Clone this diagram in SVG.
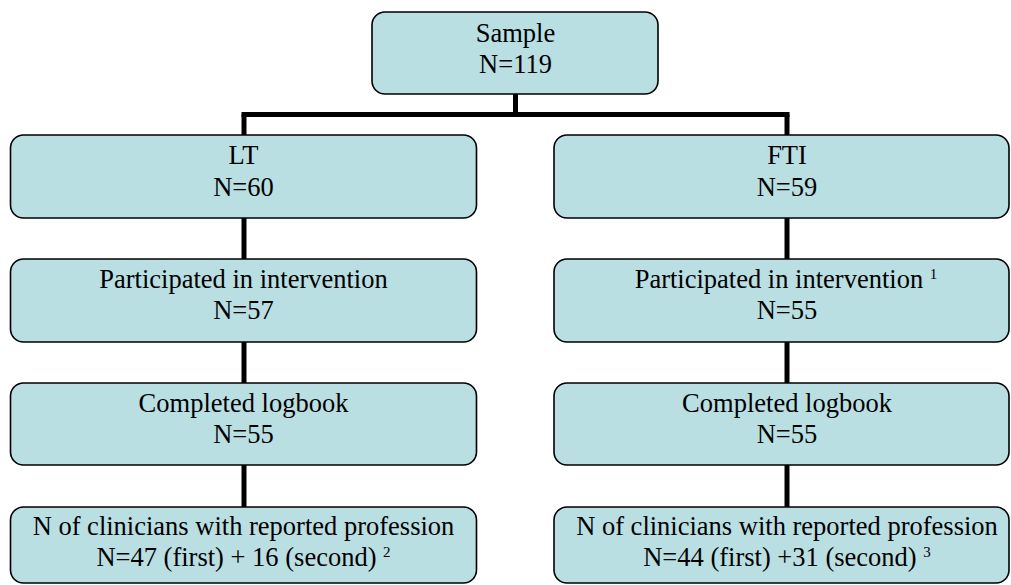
<svg xmlns="http://www.w3.org/2000/svg" width="1011" height="585" viewBox="0 0 1011 585">
<style>
.box{fill:#B9DFE3;stroke:#000;stroke-width:1.6}
.con{stroke:#000;stroke-width:5;fill:none}
</style>
<rect width="1011" height="585" fill="#fff"/>
<g id="connectors">
<line class="con" x1="515.5" y1="94" x2="515.5" y2="114.5"/>
<line class="con" x1="241.5" y1="114.5" x2="789.5" y2="114.5"/>
<line class="con" x1="244" y1="114.5" x2="244" y2="135"/>
<line class="con" x1="787" y1="114.5" x2="787" y2="135"/>
<line class="con" x1="244" y1="218" x2="244" y2="259"/>
<line class="con" x1="244" y1="342" x2="244" y2="383"/>
<line class="con" x1="244" y1="465" x2="244" y2="507"/>
<line class="con" x1="787" y1="218" x2="787" y2="259"/>
<line class="con" x1="787" y1="342" x2="787" y2="383"/>
<line class="con" x1="787" y1="465" x2="787" y2="507"/>
</g>
<g id="sample">
<rect class="box" x="372" y="12" width="286" height="82" rx="13"/>
<text font-family="Liberation Serif" font-size="26.5" text-anchor="middle" x="515.5" y="42">Sample</text>
<text font-family="Liberation Serif" font-size="26.5" text-anchor="middle" x="515.5" y="73">N=119</text>
</g>
<g id="lt">
<rect class="box" x="10.5" y="135" width="466" height="83" rx="13"/>
<text font-family="Liberation Serif" font-size="26.5" text-anchor="middle" x="243.5" y="164">LT</text>
<text font-family="Liberation Serif" font-size="26.5" text-anchor="middle" x="243.5" y="196">N=60</text>
</g>
<g id="fti">
<rect class="box" x="554" y="135" width="455" height="83" rx="13"/>
<text font-family="Liberation Serif" font-size="26.5" text-anchor="middle" x="787" y="164">FTI</text>
<text font-family="Liberation Serif" font-size="26.5" text-anchor="middle" x="787" y="196">N=59</text>
</g>
<g id="lt-participated">
<rect class="box" x="10.5" y="259" width="466" height="83" rx="13"/>
<text font-family="Liberation Serif" font-size="26.5" text-anchor="middle" x="243.5" y="288">Participated in intervention</text>
<text font-family="Liberation Serif" font-size="26.5" text-anchor="middle" x="243.5" y="319">N=57</text>
</g>
<g id="fti-participated">
<rect class="box" x="554" y="259" width="455" height="83" rx="13"/>
<text font-family="Liberation Serif" font-size="26.5" text-anchor="middle" x="786" y="288">Participated in intervention <tspan font-size="15" dy="-9">1</tspan></text>
<text font-family="Liberation Serif" font-size="26.5" text-anchor="middle" x="787" y="319">N=55</text>
</g>
<g id="lt-logbook">
<rect class="box" x="10.5" y="383" width="466" height="82" rx="13"/>
<text font-family="Liberation Serif" font-size="26.5" text-anchor="middle" x="243.5" y="412">Completed logbook</text>
<text font-family="Liberation Serif" font-size="26.5" text-anchor="middle" x="243.5" y="443">N=55</text>
</g>
<g id="fti-logbook">
<rect class="box" x="554" y="383" width="455" height="82" rx="13"/>
<text font-family="Liberation Serif" font-size="26.5" text-anchor="middle" x="787" y="412">Completed logbook</text>
<text font-family="Liberation Serif" font-size="26.5" text-anchor="middle" x="787" y="443">N=55</text>
</g>
<g id="lt-profession">
<rect class="box" x="10.5" y="507" width="466" height="76" rx="13"/>
<text font-family="Liberation Serif" font-size="26.5" text-anchor="middle" x="243.5" y="535">N of clinicians with reported profession</text>
<text font-family="Liberation Serif" font-size="26.5" text-anchor="middle" x="243.5" y="566">N=47 (first) + 16 (second) <tspan font-size="15" dy="-9">2</tspan></text>
</g>
<g id="fti-profession">
<rect class="box" x="554" y="507" width="455" height="76" rx="13"/>
<text font-family="Liberation Serif" font-size="26.5" text-anchor="middle" x="787" y="535">N of clinicians with reported profession</text>
<text font-family="Liberation Serif" font-size="26.5" text-anchor="middle" x="787" y="566">N=44 (first) +31 (second) <tspan font-size="15" dy="-9">3</tspan></text>
</g>
</svg>
